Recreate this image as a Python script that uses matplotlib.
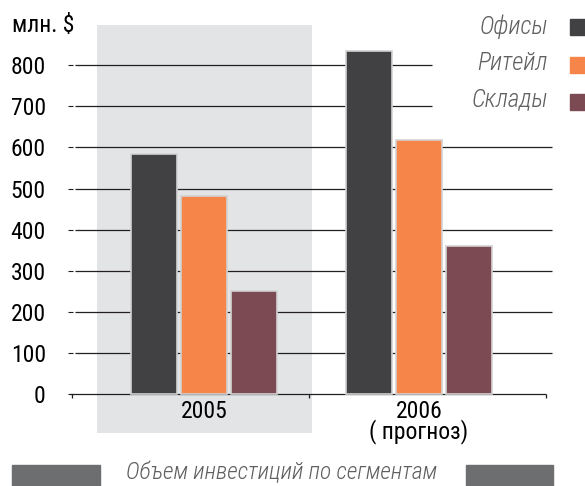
import matplotlib.pyplot as plt
from matplotlib.patches import Rectangle

years = ['2005', '2006\n( прогноз)']
series = ['Офисы', 'Ритейл', 'Склады']
values = {
    'Офисы': [585, 835],
    'Ритейл': [482, 617],
    'Склады': [250, 360],
}
colors = {'Офисы': '#414042', 'Ритейл': '#F58549', 'Склады': '#7B4A52'}
yticks = [0, 100, 200, 300, 400, 500, 600, 700, 800]

FONT = ['Roboto Condensed', 'IBM Plex Sans Condensed', 'DejaVu Sans']
plt.rcParams['font.family'] = FONT

W, H = 585, 486
fig = plt.figure(figsize=(W / 100, H / 100), dpi=100)
fig.patch.set_facecolor('white')

# axes placed in pixel terms: left 68px, top 25px, bottom 433px, right 560px
ax = fig.add_axes([68 / W, (H - 433) / H, (560 - 68) / W, (433 - 25) / H])
ax.set_facecolor('none')
ax.set_xlim(-0.633, 1.656)
ax.set_ylim(-95, 898)
for s in ax.spines.values():
    s.set_visible(False)

# shaded 2005 column
ax.axvspan(-0.5, 0.5, color='#E3E4E6', zorder=0, lw=0)

# gridlines (shorter at the top to leave room for the legend)
for t in yticks[1:]:
    right = 1.06 if t >= 700 else 1.62
    ax.hlines(t, -0.6, right, color='#231F20', lw=0.9, zorder=1)

# x axis line and ticks
ax.hlines(0, -0.623, 1.59, color='#231F20', lw=0.9, zorder=1)
ax.vlines([-0.614, 0.49, 1.59], -10, 0, color='#231F20', lw=0.9, zorder=1)

step = 0.2326
width = 0.217
for i, name in enumerate(series):
    xs = [g + (i - 1) * step for g in range(len(years))]
    ax.bar(xs, values[name], width=width, color=colors[name],
           edgecolor='#D2D2D2', linewidth=1.2, zorder=2)

ax.set_yticks(yticks)
ax.set_yticklabels([str(t) for t in yticks])
ax.tick_params(axis='y', direction='in', length=3.5, width=0.8,
               color='#231F20', pad=16, labelsize=17)
ax.set_xticks([])

for g, lab in enumerate(years):
    ax.text(g, -14, lab, ha='center', va='top', fontsize=17,
            linespacing=0.82)

fig.text(12 / W, 1 - 26 / H, 'млн. $', ha='left', va='center', fontsize=17)

# legend
leg_y = [26.5, 63, 99]
sq_y = [19, 57, 94]
for name, ty, sy in zip(series, leg_y, sq_y):
    fig.text(548 / W, 1 - ty / H, name, ha='right', va='center',
             fontsize=18, style='italic', weight='light', color='#5E5F61')
    fig.patches.append(Rectangle((570 / W, 1 - (sy + 16) / H), 16 / W, 16 / H,
                                 transform=fig.transFigure, color=colors[name]))

# footer
fig.patches.append(Rectangle((12 / W, 0), 88 / W, 21 / H,
                             transform=fig.transFigure, color='#6D6E70'))
fig.patches.append(Rectangle((466 / W, 0), 87 / W, 21 / H,
                             transform=fig.transFigure, color='#6D6E70'))
fig.text(282 / W, 1 - 473 / H, 'Объем инвестиций по сегментам', ha='center',
         va='center', fontsize=17, style='italic', weight='light',
         color='#5E5F61')

fig.savefig('out.png', dpi=100)
